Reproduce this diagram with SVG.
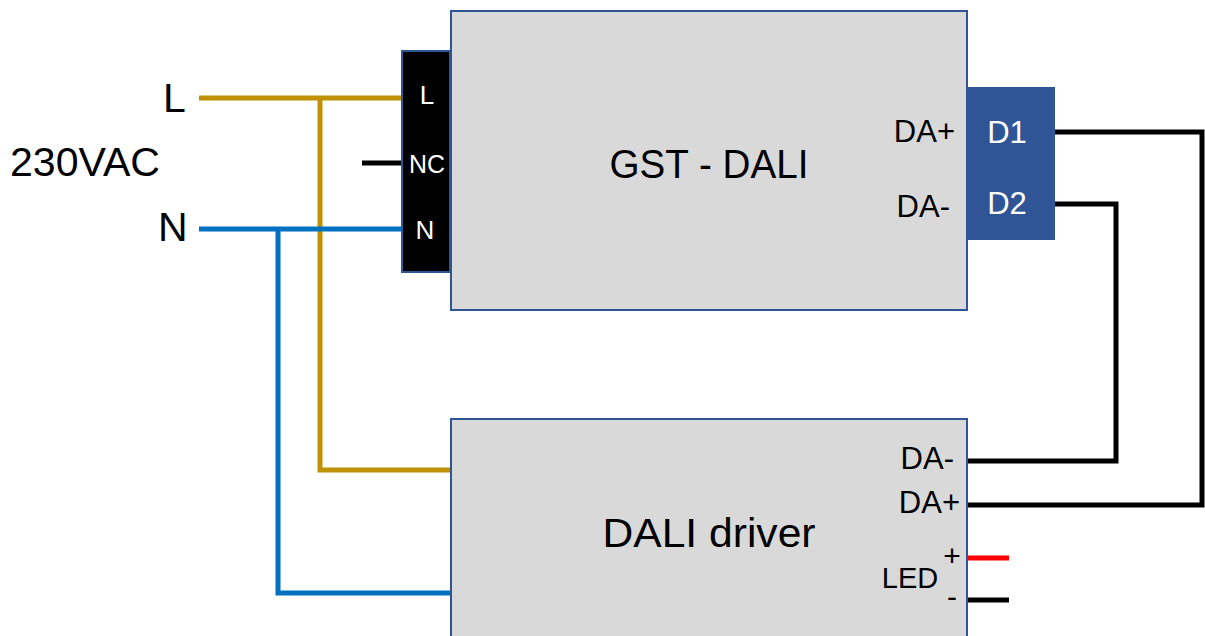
<svg xmlns="http://www.w3.org/2000/svg" width="1205" height="636" viewBox="0 0 1205 636">
<style>
text{font-family:"Liberation Sans",Arial,sans-serif}
.box{fill:#D9D9D9;stroke:#2F5597;stroke-width:2}
.w{fill:none;stroke-width:5;stroke-linejoin:miter;stroke-linecap:butt}
.y{stroke:#BF9000}.b{stroke:#0070C0}.k{stroke:#000}.r{stroke:#FF0000}
.big{font-size:41px;fill:#000;text-anchor:middle}
.lbl{font-size:31px;fill:#000}
.wt{fill:#fff}
</style>
<rect width="1205" height="636" fill="#fff"/>
<g id="connectors">
<polyline class="w y" points="199,98 402,98"/>
<polyline class="w y" points="320,98 320,470 451,470"/>
<polyline class="w b" points="199,229 402,229"/>
<polyline class="w b" points="278,229 278,593 451,593"/>
<polyline class="w k" points="362,163 402,163"/>
<polyline class="w k" points="1055,132 1202,132 1202,505 967,505"/>
<polyline class="w k" points="1055,204 1116,204 1116,461 967,461"/>
<polyline class="w r" points="967,558 1009,558"/>
<polyline class="w k" points="967,600 1009,600"/>
</g>
<g id="source">
<text x="163" y="112" font-size="41">L</text>
<text x="10" y="176" font-size="41" textLength="150" lengthAdjust="spacingAndGlyphs">230VAC</text>
<text x="158" y="241" font-size="41">N</text>
</g>
<g id="gst">
<rect class="box" x="451" y="11" width="516" height="299"/>
<text class="big" x="709" y="178" textLength="199" lengthAdjust="spacingAndGlyphs">GST - DALI</text>
<text class="lbl" x="955" y="142" text-anchor="end">DA+</text>
<text class="lbl" x="950" y="217" text-anchor="end">DA-</text>
</g>
<g id="terminal">
<rect x="402" y="51" width="48" height="221" fill="#000" stroke="#2F5597" stroke-width="2"/>
<text class="wt" x="427" y="104" font-size="26" text-anchor="middle">L</text>
<text class="wt" x="427" y="173" font-size="26" text-anchor="middle" textLength="36" lengthAdjust="spacingAndGlyphs">NC</text>
<text class="wt" x="425" y="239" font-size="26" text-anchor="middle">N</text>
</g>
<g id="dblock">
<rect x="967" y="87" width="88" height="153" fill="#2F5597"/>
<text class="lbl wt" x="1007" y="143" text-anchor="middle">D1</text>
<text class="lbl wt" x="1007" y="214" text-anchor="middle">D2</text>
</g>
<g id="driver">
<rect class="box" x="451" y="419" width="516" height="230"/>
<text class="big" x="709" y="547" textLength="213" lengthAdjust="spacingAndGlyphs">DALI driver</text>
<text class="lbl" x="954" y="469" text-anchor="end">DA-</text>
<text class="lbl" x="960" y="513" text-anchor="end">DA+</text>
<text x="910" y="588" font-size="29" text-anchor="middle">LED</text>
<text x="952" y="566" font-size="30" text-anchor="middle">+</text>
<text x="952" y="607" font-size="30" text-anchor="middle">-</text>
</g>
</svg>
